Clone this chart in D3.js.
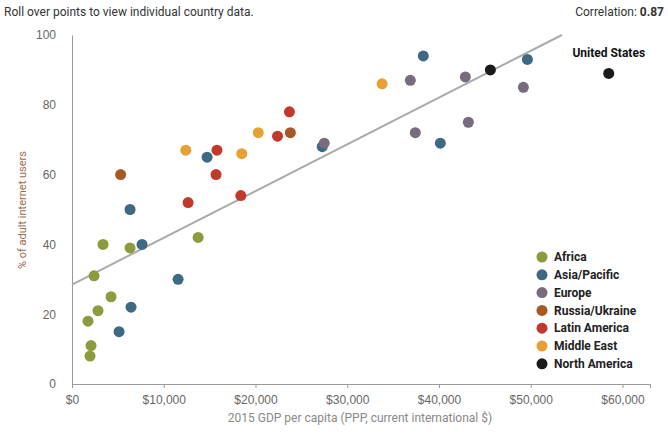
<!DOCTYPE html>
<html><head><meta charset="utf-8">
<script src="https://d3js.org/d3.v7.min.js"></script>
<style>
body{margin:0;background:#fff;font-family:Roboto,"Liberation Sans",sans-serif;}
.tick text{fill:#666;font-size:12px}
</style></head><body>
<svg id="chart" width="668" height="436"></svg>
<script>
var regions = ["Africa","Asia/Pacific","Europe","Russia/Ukraine","Latin America","Middle East","North America"];
var colors = ["#8c9b3e","#3e6983","#776b7d","#a55a25","#c0392b","#e8a032","#1a1a1a"];
var gdp = [1745,2073,1964,2400,2836,3382,4255,6327,13745,
  5127,6327,6436,7636,11564,14727,27273,38291,40145,49636,
  27490,36873,37418,42873,43200,49200,
  5300,23800,
  12654,15800,15700,18400,22400,23700,
  12400,18500,20300,33800,
  45600,58500];
var internet = [18,11,8,31,21,40,25,39,42,
  15,50,22,40,30,65,68,94,69,93,
  69,87,72,88,75,85,
  60,72,
  52,67,60,54,71,78,
  67,66,72,86,
  90,89];
var region = [0,0,0,0,0,0,0,0,0, 1,1,1,1,1,1,1,1,1,1, 2,2,2,2,2,2, 3,3, 4,4,4,4,4,4, 5,5,5,5, 6,6];
var fitLine = [[0,28.5],[53400,100]];
var xTicks = [0,10000,20000,30000,40000,50000,60000];
var yTicks = [0,20,40,60,80,100];

var svg = d3.select("#chart");
var x = d3.scaleLinear().domain([0,63000]).range([72,650]);
var y = d3.scaleLinear().domain([0,100]).range([384,35]);

svg.append("g").attr("transform","translate(0,384)")
  .call(d3.axisBottom(x).tickValues(xTicks).tickSize(4).tickFormat(d=>"$"+d3.format(",")(d)))
  .call(g=>g.select(".domain").attr("stroke","#999"))
  .call(g=>g.selectAll(".tick line").attr("stroke","#999"))
  .call(g=>g.selectAll("text").attr("dy","1.1em"));
svg.append("g").attr("transform","translate(72,0)")
  .call(d3.axisLeft(y).tickValues(yTicks).tickSize(0).tickPadding(16))
  .call(g=>g.select(".domain").attr("stroke","#999"));

svg.append("line")
  .attr("x1",x(fitLine[0][0])).attr("y1",y(fitLine[0][1]))
  .attr("x2",x(fitLine[1][0])).attr("y2",y(fitLine[1][1]))
  .attr("stroke","#aaa").attr("stroke-width",2);

svg.selectAll("circle.pt").data(gdp).enter().append("circle")
  .attr("cx",(d)=>x(d)).attr("cy",(d,i)=>y(internet[i]))
  .attr("r",5.5).attr("fill",(d,i)=>colors[region[i]]);

svg.append("text").attr("x",x(58500)).attr("y",y(89)-16).attr("text-anchor","middle")
  .attr("font-size",12).attr("font-weight","bold").attr("fill","#111").text("United States");

svg.append("text").attr("x",4).attr("y",16).attr("font-size",12).attr("fill","#333")
  .text("Roll over points to view individual country data.");
var ct = svg.append("text").attr("x",664).attr("y",16).attr("text-anchor","end").attr("font-size",12).attr("fill","#333");
ct.append("tspan").text("Correlation: ");
ct.append("tspan").attr("font-weight","bold").text("0.87");

svg.append("text").attr("transform","translate(26,210) rotate(-90)").attr("text-anchor","middle")
  .attr("font-size",11).attr("fill","#a06a50").text("% of adult internet users");
svg.append("text").attr("x",360).attr("y",422).attr("text-anchor","middle")
  .attr("font-size",12).attr("fill","#888").text("2015 GDP per capita (PPP, current international $)");

var lg = svg.selectAll("g.lg").data(regions).enter().append("g")
  .attr("transform",(d,i)=>"translate(542,"+(257+i*17.8)+")");
lg.append("circle").attr("r",5.5).attr("fill",(d,i)=>colors[i]);
lg.append("text").attr("x",12).attr("dy","0.35em").attr("font-size",12).attr("font-weight","bold")
  .attr("fill","#222").text(d=>d);
</script></body></html>
